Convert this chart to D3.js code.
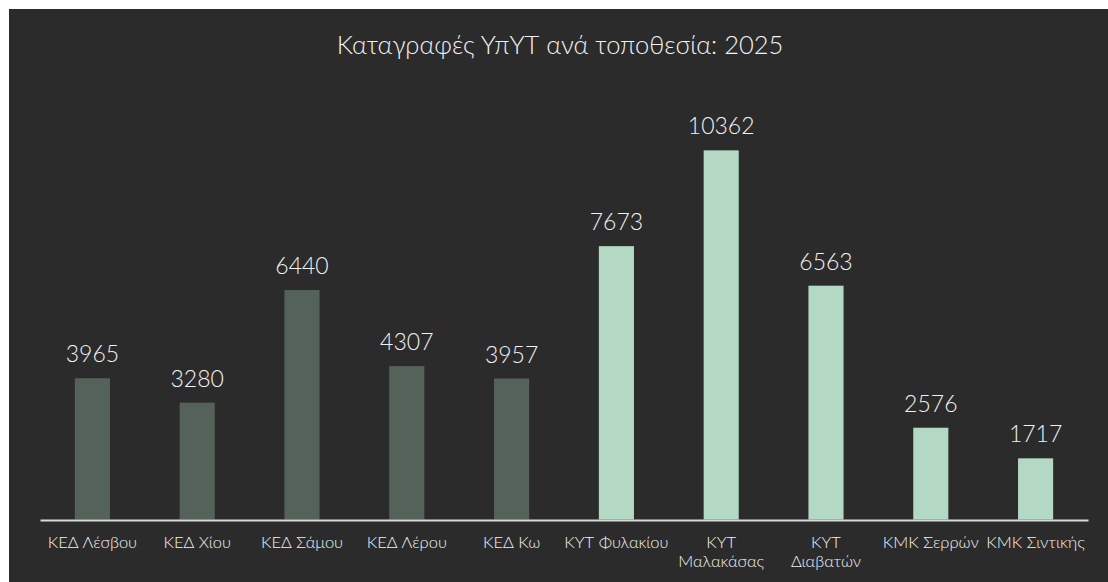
<!DOCTYPE html>
<html>
<head>
<meta charset="utf-8">
<script src="https://cdn.jsdelivr.net/npm/d3@7"></script>
<style>
  body { margin: 0; background: #ffffff; }
  svg { display: block; }
  text { font-family: "Century Gothic", Lato, "DejaVu Sans", sans-serif; fill: #f2f2f2; font-weight: 300; }
</style>
</head>
<body>
<div id="chart"></div>
<script>
var width = 1108;
var height = 582;

// data
var categories = ["ΚΕΔ Λέσβου", "ΚΕΔ Χίου", "ΚΕΔ Σάμου", "ΚΕΔ Λέρου", "ΚΕΔ Κω",
  "ΚΥΤ Φυλακίου", "ΚΥΤ Μαλακάσας", "ΚΥΤ Διαβατών", "ΚΜΚ Σερρών", "ΚΜΚ Σιντικής"];
var tickLabels = [["ΚΕΔ Λέσβου"], ["ΚΕΔ Χίου"], ["ΚΕΔ Σάμου"], ["ΚΕΔ Λέρου"], ["ΚΕΔ Κω"],
  ["ΚΥΤ Φυλακίου"], ["ΚΥΤ", "Μαλακάσας"], ["ΚΥΤ", "Διαβατών"], ["ΚΜΚ Σερρών"], ["ΚΜΚ Σιντικής"]];
var values = [3965, 3280, 6440, 4307, 3957, 7673, 10362, 6563, 2576, 1717];
var groups = ["ΚΕΔ", "ΚΕΔ", "ΚΕΔ", "ΚΕΔ", "ΚΕΔ", "other", "other", "other", "other", "other"];
var title = "Καταγραφές ΥπΥΤ ανά τοποθεσία: 2025";

var svg = d3.select("#chart").append("svg")
  .attr("width", width)
  .attr("height", height);

// dark panel
svg.append("rect")
  .attr("x", 9).attr("y", 9)
  .attr("width", width - 9).attr("height", height - 9)
  .attr("fill", "#2b2b2b");

var x = d3.scaleBand()
  .domain(categories)
  .range([40, 1088])
  .paddingInner(0.665)
  .paddingOuter(0.3325);

var y = d3.scaleLinear()
  .domain([0, 12000])
  .range([519.5, 92]);

var color = d3.scaleOrdinal()
  .domain(["ΚΕΔ", "other"])
  .range(["#546259", "#b3d8c3"]);

svg.append("text")
  .attr("x", 560)
  .attr("y", 54)
  .attr("text-anchor", "middle")
  .style("font-size", "25.5px")
  .text(title);

svg.selectAll(".bar")
  .data(values)
  .enter().append("rect")
  .attr("class", "bar")
  .attr("x", function(d, i) { return x(categories[i]); })
  .attr("y", function(d) { return y(d); })
  .attr("width", x.bandwidth())
  .attr("height", function(d) { return y(0) - y(d); })
  .attr("fill", function(d, i) { return color(groups[i]); });

svg.selectAll(".val")
  .data(values)
  .enter().append("text")
  .attr("class", "val")
  .attr("x", function(d, i) { return x(categories[i]) + x.bandwidth() / 2; })
  .attr("y", function(d) { return y(d) - 16; })
  .attr("text-anchor", "middle")
  .style("font-size", "23px")
  .text(function(d) { return d; });

// category axis
var axis = svg.append("g")
  .attr("transform", "translate(0," + 520 + ")")
  .call(d3.axisBottom(x).tickSize(0).tickFormat(""));
axis.select(".domain").attr("stroke", "#d9d9d9").attr("stroke-width", 2);

var labels = svg.selectAll(".cat")
  .data(tickLabels)
  .enter().append("text")
  .attr("class", "cat")
  .attr("x", function(d, i) { return x(categories[i]) + x.bandwidth() / 2; })
  .attr("y", 548)
  .attr("text-anchor", "middle")
  .style("font-size", "16.5px");

labels.selectAll("tspan")
  .data(function(d) { return d; })
  .enter().append("tspan")
  .attr("x", function() { return d3.select(this.parentNode).attr("x"); })
  .attr("dy", function(d, i) { return i === 0 ? 0 : 19; })
  .text(function(d) { return d; });
</script>
</body>
</html>
